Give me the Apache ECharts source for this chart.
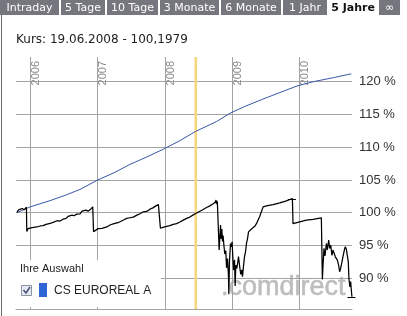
<!DOCTYPE html>
<html>
<head>
<meta charset="utf-8">
<script src="https://cdn.jsdelivr.net/npm/echarts@6/dist/echarts.min.js"></script>
<style>
html,body{margin:0;padding:0;background:#fff;}
#chart{width:407px;height:316px;}
</style>
</head>
<body>
<div id="chart"></div>
<script>
// ---- data ----
const titleText = 'Kurs: 19.06.2008 - 100,1979';
const tabLabels = ['Intraday', '5 Tage', '10 Tage', '3 Monate', '6 Monate', '1 Jahr', '5 Jahre', '\u221E'];
const selectedTab = '5 Jahre';
const yearTicks = [2006, 2007, 2008, 2009, 2010];
const percentTicks = [90, 95, 100, 105, 110, 115, 120];
const markerDate = [2008.465]; // 19.06.2008
const seriesName = 'CS EUROREAL A';
const legendTitle = 'Ihre Auswahl';
const watermark = '.comdirect';

// blue line (decimal years / percent)
const blueYears = [2005.811, 2006.0, 2006.297, 2006.520, 2006.743, 2007.0, 2007.263, 2007.486, 2007.709, 2007.981,
  2008.229, 2008.462, 2008.774, 2008.972, 2009.195, 2009.462, 2009.715, 2009.972, 2010.235, 2010.532, 2010.780];
const blueValues = [100.0, 100.85, 101.8, 102.6, 103.5, 104.9, 106.1, 107.3, 108.3, 109.6,
  110.9, 112.3, 113.8, 115.05, 116.1, 117.2, 118.2, 119.2, 119.9, 120.5, 121.05];

// black line (decimal years / percent)
const blackYears = [
  2005.802, 2005.829, 2005.851, 2005.881, 2005.911, 2005.945, 2005.951,
  2005.970, 2006.030, 2006.100, 2006.149, 2006.193, 2006.238, 2006.297, 2006.342, 2006.371, 2006.401, 2006.446,
  2006.495, 2006.535, 2006.565, 2006.594, 2006.624, 2006.654, 2006.694, 2006.713, 2006.743, 2006.773, 2006.802,
  2006.832, 2006.862, 2006.892, 2006.932, 2006.944,
  2006.966, 2007.010, 2007.070, 2007.140, 2007.189, 2007.248, 2007.308, 2007.337, 2007.397, 2007.437, 2007.486,
  2007.535, 2007.590, 2007.635, 2007.684, 2007.734, 2007.783, 2007.828, 2007.872, 2007.909, 2007.932, 2007.939,
  2007.976, 2008.031, 2008.080, 2008.129, 2008.180, 2008.229, 2008.273, 2008.328, 2008.377, 2008.422, 2008.462,
  2008.511, 2008.556, 2008.626, 2008.675, 2008.719, 2008.749, 2008.768, 2008.771, 2008.786, 2008.798,
  2008.813, 2008.834, 2008.843, 2008.853, 2008.863, 2008.872, 2008.883, 2008.897, 2008.912, 2008.923, 2008.938,
  2008.952, 2008.957, 2008.967, 2008.982, 2008.997, 2009.006, 2009.016, 2009.027, 2009.042, 2009.051, 2009.061,
  2009.076, 2009.091, 2009.101, 2009.116, 2009.125, 2009.135, 2009.150, 2009.160, 2009.175, 2009.190, 2009.205,
  2009.220, 2009.235, 2009.250, 2009.269, 2009.294, 2009.318, 2009.343, 2009.368, 2009.392, 2009.418, 2009.443,
  2009.467, 2009.517, 2009.615, 2009.715, 2009.814, 2009.903, 2009.912, 2009.938, 2010.012, 2010.111, 2010.210,
  2010.334, 2010.349, 2010.358, 2010.373, 2010.388, 2010.409, 2010.423, 2010.443, 2010.458, 2010.473, 2010.492,
  2010.507, 2010.522, 2010.542, 2010.557, 2010.572, 2010.591, 2010.606, 2010.621, 2010.641, 2010.655, 2010.676,
  2010.691, 2010.706, 2010.720, 2010.735, 2010.744, 2010.759, 2010.770, 2010.780, 2010.789
];
const blackValues = [
  100.0, 100.4, 100.1, 100.6, 100.4, 100.8, 97.1,
  97.55, 97.7, 97.8, 97.95, 98.0, 98.2, 98.33, 98.5, 98.4, 98.75, 98.7,
  99.0, 99.1, 99.4, 99.2, 99.6, 99.5, 99.75, 99.95, 99.8, 100.2, 100.0,
  100.35, 100.2, 100.4, 100.85, 97.06,
  97.3, 97.55, 97.6, 97.8, 98.1, 98.3, 98.45, 98.6, 98.9, 99.1, 99.2,
  99.3, 99.6, 99.8, 100.1, 100.15, 100.5, 100.7, 101.0, 101.2, 101.45, 97.6,
  97.75, 97.9, 98.0, 98.2, 98.3, 98.55, 98.8, 99.1, 99.3, 99.6, 99.85,
  100.1, 100.35, 100.76, 101.0, 101.3, 101.5, 101.9, 101.3, 101.7, 101.72,
  94.3, 98.1, 96.0, 97.5, 95.6, 96.5, 95.1, 93.7, 94.2, 91.6, 93.0,
  90.24, 87.6, 92.6, 95.3, 94.8, 95.55, 93.3, 91.26, 92.8, 88.83, 92.0,
  91.5, 92.5, 93.3, 92.0, 91.3, 90.6, 91.3, 90.24, 91.8, 93.27, 94.0,
  95.3, 96.0, 97.06, 97.3, 97.5, 97.8, 97.9, 98.3, 98.55, 99.44, 99.7,
  100.85, 101.0, 101.2, 101.45, 101.76, 102.12, 98.3, 98.4, 98.58, 98.83, 98.95,
  99.18, 89.85, 91.76, 94.55, 93.4, 95.3, 94.3, 95.8, 94.55, 95.05, 93.5,
  94.3, 94.55, 93.27, 93.5, 92.77, 92.0, 91.0, 91.5, 92.5, 93.27, 94.3,
  94.8, 94.4, 94.55, 92.5, 90.0, 88.7, 89.5, 88.2, 87.2
];

// ---- chart ----
const X_MIN = 2005.79, X_MAX = 2010.79;
const Y_MIN = 85.35, Y_MAX = 123.6;
const GRID_COLOR = '#a3a3a3';

const chart = echarts.init(document.getElementById('chart'), null, {renderer: 'canvas'});

const bluePairs = blueYears.map((t, i) => [t, blueValues[i]]);
const blackPairs = blackYears.map((t, i) => [t, blackValues[i]]);
let iMax = 0, iMin = 0;
blackValues.forEach((v, i) => { if (v > blackValues[iMax]) iMax = i; if (v < blackValues[iMin]) iMin = i; });
const extremes = [[blackYears[iMax], blackValues[iMax]], [blackYears[iMin], blackValues[iMin]]];

// tabs geometry (layout)
const tabX = [0, 61, 107, 160, 221, 283, 329, 379];
const tabW = [59, 44, 51, 59, 60, 44, 48, 21];
const tabElems = [];
tabLabels.forEach((lab, i) => {
  const sel = lab === selectedTab;
  tabElems.push({type: 'rect', shape: {x: tabX[i], y: 0, width: tabW[i], height: 15},
    style: {fill: sel ? '#ffffff' : '#76767f'}, z: 100});
  tabElems.push({type: 'text', x: tabX[i] + tabW[i] / 2, y: 8,
    style: {text: lab, fill: sel ? '#111' : '#fff', font: (sel ? 'bold ' : '') + '11px "DejaVu Sans"',
      align: 'center', verticalAlign: 'middle'}, z: 101});
});

const option = {
  animation: false,
  backgroundColor: '#fff',
  grid: {left: 16, right: 55, top: 57, bottom: 7, containLabel: false},
  xAxis: {type: 'value', min: X_MIN, max: X_MAX, show: true,
    axisLine: {show: true, lineStyle: {color: GRID_COLOR, width: 1}},
    axisTick: {show: false}, axisLabel: {show: false}, splitLine: {show: false}},
  yAxis: {type: 'value', min: Y_MIN, max: Y_MAX, show: false, splitLine: {show: false}},
  graphic: {elements: [
    ...tabElems,
    {type: 'line', shape: {x1: 1.5, y1: 15, x2: 1.5, y2: 316}, style: {stroke: '#6a6a6a', lineWidth: 1}, z: 100},
    {type: 'text', x: 16, y: 40, style: {text: titleText, fill: '#222', font: '12px "DejaVu Sans"',
      align: 'left', verticalAlign: 'middle'}, z: 100},
    {type: 'text', x: 221, y: 301, style: {text: watermark, fill: '#bdbdbd', font: '27px "Liberation Sans"',
      align: 'left', verticalAlign: 'bottom', stroke: '#c4c4c4', lineWidth: 0.6}, z: 0},
    {type: 'group', z: 100, children: [
      {type: 'rect', shape: {x: 3, y: 260, width: 158, height: 47}, style: {fill: '#fff'}, z: 100},
      {type: 'text', x: 20, y: 269, style: {text: legendTitle, fill: '#222', font: '11px "Liberation Sans"',
        align: 'left', verticalAlign: 'middle'}, z: 101},
      {type: 'rect', shape: {x: 21.5, y: 285.5, width: 10, height: 10}, style: {fill: '#e6e9f0', stroke: '#8d93a3', lineWidth: 1}, z: 101},
      {type: 'polyline', shape: {points: [[23.5, 290], [26, 293], [30, 287]]}, style: {stroke: '#44507a', lineWidth: 1.5, fill: null}, z: 102},
      {type: 'rect', shape: {x: 39, y: 283, width: 8, height: 14}, style: {fill: '#2f66d6'}, z: 101},
      {type: 'text', x: 54, y: 290.5, style: {text: seriesName, fill: '#222', font: '12px "Liberation Sans"',
        align: 'left', verticalAlign: 'middle'}, z: 101}
    ]}
  ]},
  series: [
    { // horizontal grid lines + percent labels
      type: 'custom', z: 1, silent: true,
      data: percentTicks.map(v => [X_MIN, v]),
      renderItem: (params, api) => {
        const v = api.value(1);
        const p0 = api.coord([X_MIN, v]), p1 = api.coord([X_MAX, v]);
        const y = Math.round(p0[1]) + 0.5;
        return {type: 'group', children: [
          {type: 'line', shape: {x1: p0[0], y1: y, x2: p1[0], y2: y}, style: {stroke: GRID_COLOR, lineWidth: 1}},
          {type: 'text', x: p1[0] + 7, y: y, style: {text: v + ' %', fill: '#333', font: '13px "Liberation Sans"',
            align: 'left', verticalAlign: 'middle'}}
        ]};
      }
    },
    { // vertical year lines + rotated labels
      type: 'custom', z: 1, silent: true,
      data: yearTicks.map(t => [t, Y_MIN]),
      renderItem: (params, api) => {
        const t = api.value(0);
        const pt = api.coord([t, Y_MAX]), pb = api.coord([t, Y_MIN]);
        const x = Math.round(pt[0]) + 0.5;
        return {type: 'group', children: [
          {type: 'line', shape: {x1: x, y1: pt[1], x2: x, y2: pb[1]}, style: {stroke: GRID_COLOR, lineWidth: 1}},
          {type: 'text', x: x, y: pt[1] + 4, rotation: Math.PI / 2,
            style: {text: String(t), fill: '#8c8c8c', font: '11px "Liberation Sans"', align: 'right', verticalAlign: 'top'}}
        ]};
      }
    },
    { // selected-date marker
      type: 'custom', z: 1.5, silent: true,
      data: markerDate.map(t => [t, Y_MIN]),
      renderItem: (params, api) => {
        const t = api.value(0);
        const pt = api.coord([t, Y_MAX]), pb = api.coord([t, Y_MIN]);
        return {type: 'line', shape: {x1: pt[0], y1: pt[1], x2: pb[0], y2: pb[1]},
          style: {stroke: '#f7d77c', lineWidth: 2.5}};
      }
    },
    {
      type: 'line', name: 'Vergleich', data: bluePairs, showSymbol: false, z: 3,
      lineStyle: {color: '#3a57a6', width: 1}, itemStyle: {color: '#3a57a6'}
    },
    {
      type: 'line', name: seriesName, data: blackPairs, showSymbol: false, z: 4,
      lineStyle: {color: '#000', width: 1.25}, itemStyle: {color: '#000'}
    },
    { // high / low ticks
      type: 'custom', z: 4, silent: true,
      data: extremes,
      renderItem: (params, api) => {
        const p = api.coord([api.value(0), api.value(1)]);
        const y = Math.round(p[1]) + 0.5;
        return {type: 'line', shape: {x1: p[0] - 4.5, y1: y, x2: p[0] + 3.5, y2: y}, style: {stroke: '#000', lineWidth: 1}};
      }
    }
  ]
};
chart.setOption(option);
</script>
</body>
</html>
